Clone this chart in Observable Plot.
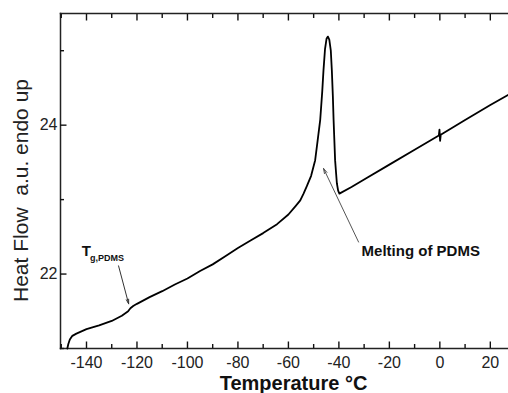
<!DOCTYPE html>
<html>
<head>
<meta charset="utf-8">
<script src="https://cdn.jsdelivr.net/npm/d3@7"></script>
<script src="https://cdn.jsdelivr.net/npm/@observablehq/plot@0.6"></script>
<style>
  html, body { margin: 0; padding: 0; background: #fff; overflow: hidden; }
  #chart svg { display: block; font-family: "Liberation Sans", Arial, sans-serif; }
</style>
</head>
<body>
<div id="chart"></div>
<script>
// Temperature (°C)
const temperature = [-147.6, -147.2, -146.6, -145.6, -144, -142, -140, -135, -130, -126, -123.5, -122.6, -121.5, -120, -115, -110, -105, -100, -95, -90, -85, -80, -75, -70, -64.5, -60, -57, -55.3, -54, -52.7, -51, -49.4, -48.4, -47.4, -46.6, -46.1, -45.5, -44.9, -44.35, -43.8, -43.2, -42.8, -42.4, -42.1, -41.8, -41.5, -41.1, -40.8, -40.3, -39.8, -35, -30, -20, -10, -0.4, -0.15, 0.1, 0.35, 10, 20, 27.2];
// Heat flow (a.u., endo up)
const heatFlow = [21.0, 21.06, 21.12, 21.17, 21.2, 21.23, 21.26, 21.31, 21.37, 21.44, 21.5, 21.54, 21.57, 21.6, 21.69, 21.77, 21.86, 21.94, 22.04, 22.13, 22.24, 22.35, 22.45, 22.55, 22.67, 22.8, 22.92, 22.99, 23.08, 23.18, 23.32, 23.53, 23.8, 24.07, 24.45, 24.74, 25.02, 25.16, 25.19, 25.15, 25.0, 24.74, 24.4, 24.07, 23.8, 23.53, 23.35, 23.22, 23.12, 23.08, 23.17, 23.27, 23.47, 23.67, 23.86, 23.94, 23.79, 23.87, 24.07, 24.27, 24.41];

const xMajorTicks = [-140, -120, -100, -80, -60, -40, -20, 0, 20];
const xMinorTicks = [-150, -130, -110, -90, -70, -50, -30, -10, 10];
const yMajorTicks = [22, 24];
const yMinorTicks = [21, 23, 25];

const xTitle = "Temperature °C";
const yTitle = "Heat Flow\u00a0\u00a0a.u. endo up";

// Annotations (data coordinates)
const tgLabel = [{x: -141.9, y: 22.24, text: "T"}];
const tgSub = [{x: -138.6, y: 22.17, text: "g,PDMS"}];
const tgArrow = [{x1: -127.3, y1: 22.11, x2: -123.3, y2: 21.6}];
const meltLabel = [{x: -31.0, y: 22.24, text: "Melting of PDMS"}];
const meltArrow = [{x1: -32.2, y1: 22.43, x2: -46.1, y2: 23.42}];

const data = temperature.map((t, i) => ({t, h: heatFlow[i]}));

const W = 508, H = 393, mT = 13, mB = 45, mL = 60, mR = 0;
const xDomain = [-150.3, 27.2], yDomain = [21, 25.5];
const fmt = d => `${d}`;

const plot = Plot.plot({
  width: W,
  height: H,
  marginTop: mT,
  marginBottom: mB,
  marginLeft: mL,
  marginRight: mR,
  x: {domain: xDomain},
  y: {domain: yDomain},
  marks: [
    // frame: left, bottom, top
    Plot.frame({anchor: "left", stroke: "#222", strokeWidth: 1.5}),
    Plot.frame({anchor: "bottom", stroke: "#222", strokeWidth: 1.5}),
    Plot.frame({anchor: "top", stroke: "#222", strokeWidth: 1.5}),
    // inward ticks via native axes (negative tick size)
    Plot.axisX({anchor: "bottom", ticks: xMajorTicks, tickSize: -6.5, tickPadding: 14.5, fontSize: 16, fill: "#222", stroke: "#111", strokeWidth: 1.4, label: null, tickFormat: fmt}),
    Plot.axisX({anchor: "bottom", ticks: xMinorTicks, tickSize: -4, stroke: "#111", strokeWidth: 1.4, text: null, label: null}),
    Plot.axisX({anchor: "top", ticks: xMajorTicks, tickSize: -6.5, stroke: "#111", strokeWidth: 1.4, text: null, label: null}),
    Plot.axisX({anchor: "top", ticks: xMinorTicks, tickSize: -4, stroke: "#111", strokeWidth: 1.4, text: null, label: null}),
    Plot.axisY({anchor: "left", ticks: yMajorTicks, tickSize: -6.5, tickPadding: 9.5, fontSize: 16, fill: "#222", stroke: "#111", strokeWidth: 1.4, label: null, tickFormat: fmt}),
    Plot.axisY({anchor: "left", ticks: yMinorTicks, tickSize: -4, stroke: "#111", strokeWidth: 1.4, text: null, label: null}),
    // axis titles
    Plot.text([xTitle], {frameAnchor: "bottom", textAnchor: "middle", lineAnchor: "top", dy: 27, dx: 9, fontSize: 20, fontWeight: "bold", fill: "#111", text: d => d}),
    Plot.text([yTitle], {frameAnchor: "left", textAnchor: "middle", lineAnchor: "bottom", rotate: -90, dx: -33, dy: 9.5, fontSize: 21, fill: "#222", text: d => d}),
    // the DSC curve
    Plot.line(data, {x: "t", y: "h", stroke: "#000", strokeWidth: 1.8, curve: "linear"}),
    // annotations
    Plot.arrow(tgArrow, {x1: "x1", y1: "y1", x2: "x2", y2: "y2", stroke: "#333", strokeWidth: 1, headLength: 7, headAngle: 30}),
    Plot.arrow(meltArrow, {x1: "x1", y1: "y1", x2: "x2", y2: "y2", stroke: "#555", strokeWidth: 1, headLength: 8, headAngle: 30}),
    Plot.text(tgLabel, {x: "x", y: "y", text: "text", textAnchor: "start", lineAnchor: "bottom", fontSize: 15, fontWeight: "bold", fill: "#111"}),
    Plot.text(tgSub, {x: "x", y: "y", text: "text", textAnchor: "start", lineAnchor: "bottom", fontSize: 9, fontWeight: "bold", fill: "#111"}),
    Plot.text(meltLabel, {x: "x", y: "y", text: "text", textAnchor: "start", lineAnchor: "bottom", fontSize: 15, fontWeight: "bold", fill: "#111"})
  ]
});

document.getElementById("chart").appendChild(plot);
</script>
</body>
</html>
